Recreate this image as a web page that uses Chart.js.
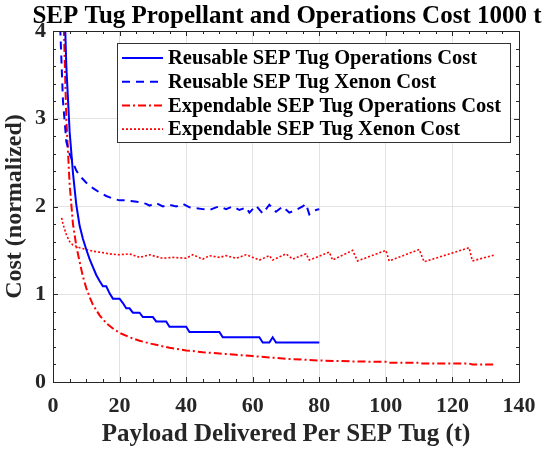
<!DOCTYPE html>
<html>
<head>
<meta charset="utf-8">
<script src="https://cdn.jsdelivr.net/npm/chart.js@4/dist/chart.umd.min.js"></script>
<style>
  html, body { margin: 0; padding: 0; background: #fff; }
  #wrap { width: 547px; height: 452px; }
</style>
</head>
<body>
<div id="wrap"><canvas id="costChart" width="547" height="452"></canvas></div>
<script>
// values
const reuseOpsX = [3, 4, 5, 6, 7, 8, 9, 10, 11, 12, 13, 14, 15, 16, 17, 18, 20, 21, 22, 23, 24, 26, 27, 30, 31, 34, 35, 40, 41, 50, 51, 62, 63, 65, 66, 67, 80];
const reuseOpsY = [4.9, 3.6, 2.85, 2.38, 2.02, 1.78, 1.63, 1.51, 1.4, 1.31, 1.22, 1.15, 1.09, 1.09, 1.01, 0.95, 0.95, 0.9, 0.84, 0.84, 0.79, 0.79, 0.74, 0.74, 0.69, 0.69, 0.63, 0.63, 0.57, 0.57, 0.51, 0.51, 0.45, 0.45, 0.51, 0.45, 0.45];

const reuseXeX = [2, 3, 4, 5, 6, 7, 8, 10, 12, 14, 16, 18, 20, 22, 24, 26, 28, 29, 31, 33, 35, 37, 39, 41, 43, 45, 47, 49, 50, 52, 54, 56, 58, 59, 61, 63, 65, 67, 69, 71, 73, 75, 76, 77, 79, 80];
const reuseXeY = [4.2, 3.2, 2.74, 2.6, 2.5, 2.41, 2.35, 2.27, 2.21, 2.16, 2.12, 2.09, 2.07, 2.07, 2.06, 2.05, 2.03, 2.01, 2.04, 2.0, 2.02, 2.0, 2.03, 1.99, 1.98, 1.97, 1.96, 1.99, 2.0, 1.97, 2.0, 1.96, 1.99, 1.93, 2.01, 1.92, 2.02, 1.94, 2.0, 1.93, 1.96, 2.0, 2.03, 1.91, 1.96, 1.97];

const expOpsX = [3, 4, 5, 6, 7, 8, 9, 10, 11, 12, 14, 16, 18, 20, 23, 26, 29, 32, 35, 40, 45, 50, 55, 60, 65, 70, 75, 80, 85, 90, 95, 100, 101, 105, 110, 111, 115, 120, 125, 126, 130, 133];
const expOpsY = [4.4, 3.0, 2.25, 1.8, 1.55, 1.37, 1.2, 1.07, 0.97, 0.88, 0.76, 0.67, 0.61, 0.56, 0.51, 0.47, 0.44, 0.415, 0.39, 0.36, 0.34, 0.325, 0.31, 0.295, 0.28, 0.265, 0.255, 0.245, 0.24, 0.235, 0.232, 0.23, 0.22, 0.22, 0.22, 0.21, 0.21, 0.21, 0.21, 0.2, 0.2, 0.2];

const expXeX = [2.6, 3, 4, 5, 6, 8, 10, 12, 14, 17, 20, 23, 26, 29, 31, 33, 36, 40, 42, 45, 47, 50, 52, 55, 58, 60, 62, 65, 66, 70, 72, 76, 77, 83, 84, 90, 91.5, 100, 101, 110, 111.5, 125, 126, 133];
const expXeY = [1.87, 1.8, 1.68, 1.6, 1.56, 1.53, 1.51, 1.49, 1.48, 1.46, 1.45, 1.46, 1.42, 1.45, 1.43, 1.41, 1.42, 1.41, 1.45, 1.4, 1.44, 1.42, 1.44, 1.41, 1.45, 1.42, 1.39, 1.44, 1.39, 1.46, 1.4, 1.46, 1.39, 1.48, 1.39, 1.5, 1.38, 1.5, 1.38, 1.51, 1.37, 1.53, 1.38, 1.45];

const seriesNames = [
  'Reusable SEP Tug Operations Cost',
  'Reusable SEP Tug Xenon Cost',
  'Expendable SEP Tug Operations Cost',
  'Expendable SEP Tug Xenon Cost'
];
const chartTitle = 'SEP Tug Propellant and Operations Cost 1000 t';
const xTicks = [0, 20, 40, 60, 80, 100, 120, 140];
const yTicks = [0, 1, 2, 3, 4];

const SERIF = "'Liberation Serif', 'Times New Roman', serif";
const AX = '#262626';

function pts(xs, ys) {
  return xs.map((x, i) => ({ x: x, y: ys[i] }));
}

// box, inward ticks, title and the framed legend, matlab style
const matlabFrame = {
  id: 'matlabFrame',
  afterDatasetsDraw(chart) {
    const { ctx, chartArea: a, scales } = chart;
    const xs = scales.x, ys = scales.y;
    ctx.save();
    ctx.strokeStyle = AX;
    ctx.lineWidth = 1;
    ctx.setLineDash([]);
    ctx.beginPath();
    for (let v = 0; v <= 140; v += 5) {
      const p = Math.round(xs.getPixelForValue(v)) + 0.5;
      const len = v % 20 === 0 ? 5 : 3;
      ctx.moveTo(p, a.bottom); ctx.lineTo(p, a.bottom - len);
      ctx.moveTo(p, a.top); ctx.lineTo(p, a.top + len);
    }
    for (let i = 0; i <= 20; i++) {
      const p = Math.round(ys.getPixelForValue(i * 0.2)) + 0.5;
      const len = i % 5 === 0 ? 5 : 3;
      ctx.moveTo(a.left, p); ctx.lineTo(a.left + len, p);
      ctx.moveTo(a.right, p); ctx.lineTo(a.right - len, p);
    }
    ctx.stroke();
    ctx.strokeRect(Math.round(a.left) + 0.5, Math.round(a.top) + 0.5,
      Math.round(a.right - a.left), Math.round(a.bottom - a.top));

    // title centred over the axes
    ctx.fillStyle = '#000';
    ctx.font = 'bold 25px ' + SERIF;
    ctx.textAlign = 'center';
    ctx.textBaseline = 'alphabetic';
    ctx.fillText(chartTitle, (a.left + a.right) / 2 + 1, 23);

    // legend
    const lx = a.left + 64, ly = a.top + 12, lw = 393, lh = 99;
    ctx.fillStyle = '#fff';
    ctx.fillRect(lx, ly, lw, lh);
    ctx.strokeStyle = '#333';
    ctx.strokeRect(Math.round(lx) + 0.5, Math.round(ly) + 0.5, lw, lh);
    ctx.font = 'bold 20.5px ' + SERIF;
    ctx.textAlign = 'left';
    ctx.textBaseline = 'middle';
    chart.data.datasets.forEach((ds, i) => {
      const cy = ly + 15 + i * 23.7;
      ctx.strokeStyle = ds.borderColor;
      ctx.lineWidth = ds.borderWidth;
      ctx.setLineDash(ds.borderDash || []);
      ctx.beginPath();
      ctx.moveTo(lx + 5, cy);
      ctx.lineTo(lx + 46, cy);
      ctx.stroke();
      ctx.setLineDash([]);
      ctx.fillStyle = '#000';
      ctx.fillText(ds.label, lx + 51, cy + 1);
    });
    ctx.restore();
  }
};

new Chart(document.getElementById('costChart'), {
  type: 'line',
  data: {
    datasets: [
      { label: seriesNames[0], data: pts(reuseOpsX, reuseOpsY), borderColor: '#0000ff', borderWidth: 2, borderDash: [] },
      { label: seriesNames[1], data: pts(reuseXeX, reuseXeY), borderColor: '#0000ff', borderWidth: 2, borderDash: [8, 6] },
      { label: seriesNames[2], data: pts(expOpsX, expOpsY), borderColor: '#ff0000', borderWidth: 2, borderDash: [8, 3, 2, 3] },
      { label: seriesNames[3], data: pts(expXeX, expXeY), borderColor: '#ff0000', borderWidth: 1.6, borderDash: [2, 2] }
    ]
  },
  options: {
    responsive: false,
    animation: false,
    events: [],
    elements: { point: { radius: 0 }, line: { tension: 0, fill: false } },
    layout: { padding: { left: 0, right: 28, top: 31, bottom: 0 } },
    plugins: {
      legend: { display: false },
      tooltip: { enabled: false },
      title: { display: false }
    },
    scales: {
      x: {
        type: 'linear',
        min: 0, max: 140,
        afterBuildTicks: s => { s.ticks = xTicks.map(v => ({ value: v })); },
        afterFit: s => { s.height = 70; },
        border: { display: false },
        grid: { color: '#e3e3e3', drawTicks: false },
        ticks: { color: AX, padding: 11, font: { family: SERIF, size: 22, weight: 'bold' } },
        title: {
          display: true,
          text: 'Payload Delivered Per SEP Tug (t)',
          color: AX,
          font: { family: SERIF, size: 25, weight: 'bold' },
          padding: { top: 0, bottom: 2 }
        }
      },
      y: {
        type: 'linear',
        min: 0, max: 4,
        afterBuildTicks: s => { s.ticks = yTicks.map(v => ({ value: v })); },
        afterFit: s => { s.width = 53; },
        border: { display: false },
        grid: { color: '#e3e3e3', drawTicks: false },
        ticks: { color: AX, padding: 7, font: { family: SERIF, size: 22, weight: 'bold' } },
        title: {
          display: true,
          text: 'Cost (normalized)',
          color: AX,
          font: { family: SERIF, size: 24, weight: 'bold' },
          padding: { top: 0, bottom: 0 }
        }
      }
    }
  },
  plugins: [matlabFrame]
});
</script>
</body>
</html>
